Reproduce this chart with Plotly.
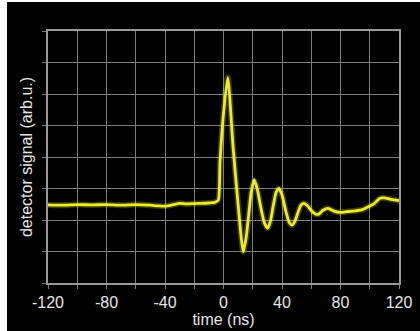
import plotly.graph_objects as go

# Data
time_ns = [-120, -110, -100, -90, -80, -70, -60, -50, -45, -40, -35, -30, -25, -20, -15,
           -10, -6, -3.6, -2.4, -0.1, 2.9, 6.6, 10, 13.5, 15.5, 17.2, 19, 21, 23, 25.5,
           28, 30.2, 32, 34, 36, 37.9, 40, 42.5, 45, 47, 49, 51, 53, 55, 57.5,
           60, 62.5, 64.8, 66.5, 68, 71.6, 75.5, 79.6, 85, 89.9, 95, 99, 103, 107,
           110, 113.8, 117, 120]
signal = [2.48, 2.47, 2.49, 2.48, 2.49, 2.47, 2.49, 2.47, 2.45, 2.44, 2.48, 2.53, 2.51, 2.52, 2.53,
          2.54, 2.56, 2.63, 3.85, 5.33, 6.52, 4.29, 2.48, 0.99, 1.45, 2.15, 2.9, 3.27, 3.0, 2.4,
          1.9, 1.74, 1.95, 2.45, 2.88, 3.0, 2.8, 2.3, 1.92, 1.84, 1.98, 2.25, 2.47, 2.53, 2.45,
          2.3, 2.2, 2.18, 2.24, 2.31, 2.37, 2.28, 2.24, 2.27, 2.29, 2.33, 2.42, 2.52, 2.69,
          2.70, 2.66, 2.64, 2.61]

x_ticks = [-120, -80, -40, 0, 40, 80, 120]
x_labels = ["-120", "-80", "-40", "0", "40", "80", "120"]
y_grid = [0, 1, 2, 3, 4, 5, 6, 7, 8]

fig = go.Figure()
# glow
fig.add_trace(go.Scatter(x=time_ns, y=signal, mode="lines",
                         line=dict(color="rgba(230,230,40,0.25)", width=6, shape="spline", smoothing=0.6),
                         hoverinfo="skip", showlegend=False))
fig.add_trace(go.Scatter(x=time_ns, y=signal, mode="lines",
                         line=dict(color="#ecec28", width=2.8, shape="spline", smoothing=0.6),
                         showlegend=False))

# page has a white strip of 7px on the left and 2px at the top
OX, OY = 7, 2
W, H = 420 - OX, 331 - OY
L, R, T, B = 48 - OX, 21, 31 - OY, 48

grid_col = "#7c7c7c"
font = dict(family="Liberation Sans, Arial, sans-serif", size=16, color="#e6e6e6")

fig.update_layout(
    width=W, height=H,
    margin=dict(l=L, r=R, t=T, b=B, autoexpand=False),
    paper_bgcolor="black", plot_bgcolor="black",
    font=font,
    xaxis=dict(range=[-120, 120], tickvals=x_ticks, ticktext=x_labels,
               automargin=False,
               showgrid=True, gridcolor=grid_col, gridwidth=1,
               minor=dict(dtick=20, showgrid=True, gridcolor=grid_col, gridwidth=1,
                          ticks="outside", ticklen=4, tickcolor=grid_col),
               ticks="outside", ticklen=4, tickcolor=grid_col,
               ticklabelstandoff=0,
               showline=True, linecolor="#999999", linewidth=1.5, mirror=True,
               zeroline=False,
               title=dict(text="time (ns)", font=font, standoff=0),
               tickfont=font),
    yaxis=dict(range=[0, 8], tickvals=y_grid, showticklabels=False,
               automargin=False,
               showgrid=True, gridcolor=grid_col, gridwidth=1,
               ticks="outside", ticklen=4, tickcolor=grid_col,
               showline=True, linecolor="#999999", linewidth=1.5, mirror=True,
               zeroline=False,
               title=dict(text="detector signal (arb.u.)", font=font, standoff=6)),
)

fig.write_html(
    "out.html",
    config={"displayModeBar": False},
    post_script=("document.body.style.margin='0';"
                 "document.body.style.padding='%dpx 0 0 %dpx';"
                 "document.body.style.background='white';"
                 "document.body.style.overflow='hidden';" % (OY, OX)),
)
